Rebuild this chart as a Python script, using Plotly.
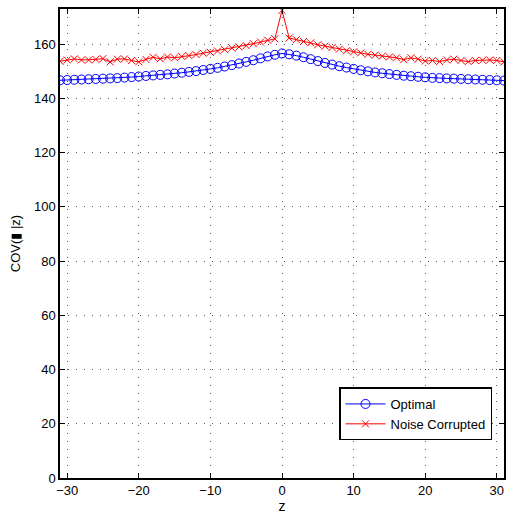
import plotly.graph_objects as go

z = list(range(-31, 32))
optimal = [146.7, 146.8, 146.9, 147.0, 147.1, 147.2, 147.3, 147.4, 147.5, 147.7, 147.9,
           148.1, 148.3, 148.5, 148.7, 148.9, 149.2, 149.5, 149.8, 150.1, 150.5,
           150.9, 151.3, 151.8, 152.3, 152.9, 153.5, 154.1, 154.8, 155.5, 156.1,
           156.6,
           156.3, 155.8, 155.2, 154.5, 153.8, 153.1, 152.5, 151.9, 151.4, 150.9,
           150.4, 150.0, 149.6, 149.3, 149.0, 148.7, 148.4, 148.2, 148.0, 147.8,
           147.6, 147.5, 147.4, 147.3, 147.2, 147.1, 147.0, 146.9, 146.8, 146.7, 146.6]
noisy = [153.7, 154.2, 154.6, 154.2, 154.2, 154.4, 154.7, 153.5, 154.5, 154.6, 154.0,
         153.5, 154.4, 155.2, 154.6, 155.3, 155.0, 155.5, 155.8, 156.2, 156.7,
         157.0, 157.5, 158.0, 158.6, 159.0, 159.5, 160.2, 160.8, 161.5, 162.0,
         172.5,
         162.3, 161.7, 161.0, 160.5, 159.8, 159.3, 158.8, 158.2, 157.6, 157.2,
         156.8, 156.3, 156.0, 155.6, 155.3, 155.0, 154.3, 155.0, 154.5, 153.8,
         154.0, 153.6, 154.2, 154.5, 154.0, 153.6, 154.0, 154.1, 154.2, 154.0, 153.5]
x_ticks = [-30, -20, -10, 0, 10, 20, 30]
x_tick_text = ["\u221230", "\u221220", "\u221210", "0", "10", "20", "30"]
y_ticks = [0, 20, 40, 60, 80, 100, 120, 140, 160]

FONT = "Liberation Sans, Arial"

fig = go.Figure()
fig.add_trace(go.Scatter(
    x=z, y=optimal, name="Optimal", mode="lines+markers",
    line=dict(color="#0000ff", width=1),
    marker=dict(symbol="circle-open", size=9, color="#0000ff", line=dict(width=1)),
))
fig.add_trace(go.Scatter(
    x=z, y=noisy, name="Noise Corrupted", mode="lines+markers",
    line=dict(color="#ff0000", width=1),
    marker=dict(symbol="x-thin-open", size=7, color="#ff0000", line=dict(width=1, color="#ff0000")),
))

axis_common = dict(
    showline=True, linecolor="black", linewidth=1.5, mirror="ticks",
    ticks="inside", ticklen=5, tickcolor="black",
    showgrid=True, gridcolor="#555555", griddash="1px,7px", gridwidth=1,
    zeroline=False, tickfont=dict(family=FONT, size=13, color="black"),
)
fig.update_xaxes(range=[-31, 31], tickvals=x_ticks, ticktext=x_tick_text,
                 title=dict(text="z", font=dict(family=FONT, size=14, color="black"), standoff=4),
                 **axis_common)
fig.update_yaxes(range=[0, 173], tickvals=y_ticks,
                 title=dict(text="COV(\u25AE |z)", font=dict(family=FONT, size=13, color="black"), standoff=10),
                 **axis_common)
fig.update_layout(
    width=508, height=525,
    margin=dict(l=60, r=2, t=9, b=47),
    paper_bgcolor="white", plot_bgcolor="white",
    font=dict(family=FONT, size=13, color="black"),
    legend=dict(x=0.973, y=0.08, xanchor="right", yanchor="bottom",
                bordercolor="black", borderwidth=1.5, bgcolor="white",
                font=dict(family=FONT, size=13), itemwidth=40, tracegroupgap=4),
)
fig.write_html("out.html")
